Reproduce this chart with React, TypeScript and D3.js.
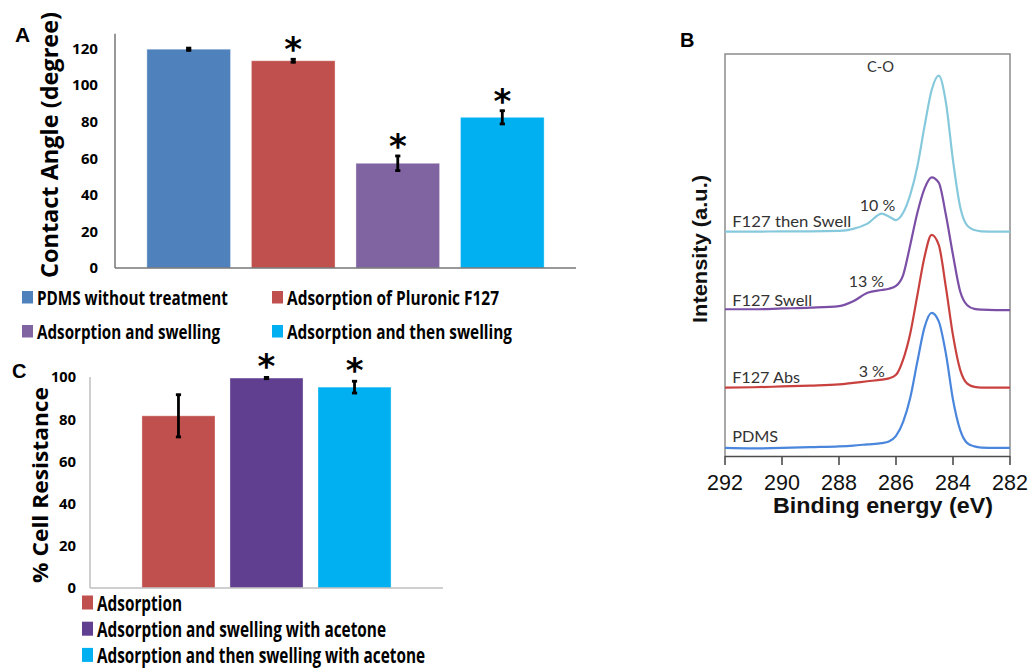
import React from "react";
import * as d3 from "d3";

// ---------- Panel A data ----------
const catsA = [
  "PDMS without treatment",
  "Adsorption of Pluronic F127",
  "Adsorption and swelling",
  "Adsorption and then swelling",
];
const angleMeans = [119.5, 113.2, 57.2, 82.3];
const angleErrs = [0.6, 0.8, 4.0, 3.6];
const angleSig = [false, true, true, true];
const colorsA = ["#4F81BD", "#C0504D", "#8064A2", "#00B0F0"];
const ticksA = [0, 20, 40, 60, 80, 100, 120];

// ---------- Panel C data ----------
const catsC = [
  "Adsorption",
  "Adsorption and swelling with acetone",
  "Adsorption and then swelling with acetone",
];
const resistMeans = [81.6, 99.5, 95.2];
const resistErrs = [10.0, 0.3, 2.8];
const resistSig = [false, true, true];
const colorsC = ["#C0504D", "#603E90", "#00B0F0"];
const ticksC = [0, 20, 40, 60, 80, 100];

// ---------- Panel B data (XPS C1s spectra, offset, a.u.) ----------
const energies = [292, 291, 290, 289, 288, 287.5, 287, 286.5, 286.25, 286, 285.75, 285.5, 285.25, 285, 284.75, 284.5, 284.25, 284, 283.75, 283.5, 283.25, 283, 282.5, 282];
const pdmsI = [2.0, 1.9, 2.0, 2.2, 2.4, 2.6, 2.9, 3.2, 3.6, 5.0, 8.5, 14.5, 23.5, 32.0, 35.6, 33.5, 25.5, 14.0, 6.5, 3.2, 2.4, 2.1, 2.0, 2.0];
const absI = [17.0, 17.1, 17.3, 17.5, 17.8, 18.2, 18.6, 19.0, 19.3, 20.2, 24.0, 30.5, 40.0, 49.5, 55.0, 52.5, 42.0, 30.0, 21.5, 18.0, 17.2, 17.0, 17.0, 17.0];
const swellI = [36.5, 36.5, 36.7, 36.9, 37.3, 38.5, 40.6, 41.3, 41.6, 42.3, 45.0, 52.5, 60.5, 66.5, 69.3, 68.0, 60.0, 50.0, 41.0, 37.5, 36.6, 36.4, 36.3, 36.3];
const thenSwellI = [55.8, 55.8, 55.9, 55.9, 56.0, 56.5, 57.8, 60.3, 59.6, 58.7, 60.5, 65.0, 72.0, 82.0, 91.0, 94.6, 88.0, 73.5, 62.0, 57.3, 56.2, 55.9, 55.8, 55.8];
const ticksB = [292, 290, 288, 286, 284, 282];
const seriesB = [
  { name: "PDMS", values: pdmsI, color: "#4A86DC", pct: "" },
  { name: "F127 Abs", values: absI, color: "#C8413F", pct: "3 %" },
  { name: "F127 Swell", values: swellI, color: "#7B4FA6", pct: "13 %" },
  { name: "F127 then Swell", values: thenSwellI, color: "#86C9DC", pct: "10 %" },
];

const BODY = "Lato, 'Open Sans', sans-serif";
const BOLDF = "'Open Sans', 'Noto Sans', sans-serif";
const ARIAL = "'Liberation Sans', Arial, sans-serif";
const HEAVY = "bold";

export default function App() {
  // Panel A scales
  const xA = d3.scaleBand<string>().domain(catsA).range([115, 576]).paddingInner(0.2).paddingOuter(0.305);
  const yA = d3.scaleLinear().domain([0, 120]).range([268, 48.3]);
  // Panel C scales
  const xC = d3.scaleBand<string>().domain(catsC).range([90, 443]).paddingInner(0.17).paddingOuter(0.59);
  const yC = d3.scaleLinear().domain([0, 100]).range([588, 377]);
  // Panel B scales
  const xB = d3.scaleLinear().domain([292, 282]).range([725, 1010]);
  const yB = d3.scaleLinear().domain([0, 100]).range([456, 54]);
  const line = d3
    .line<[number, number]>()
    .x((d) => xB(d[0]))
    .y((d) => yB(d[1]))
    .curve(d3.curveMonotoneX);

  const legendAWidths = [191, 212, 183, 225];
  const legendCWidths = [85, 289, 328];

  const errBar = (cx: number, yTop: number, yBot: number, key: string) => (
    <g key={key} stroke="#000" strokeWidth={2.8}>
      <line x1={cx} x2={cx} y1={yTop - 1} y2={yBot + 1} />
      <line x1={cx - 2.6} x2={cx + 2.6} y1={yTop} y2={yTop} />
      <line x1={cx - 2.6} x2={cx + 2.6} y1={yBot} y2={yBot} />
    </g>
  );

  const nameLabelE = 291.75;
  const pctLabelE: Record<string, number> = { "F127 then Swell": 287.27, "F127 Swell": 287.66, "F127 Abs": 287.31 };
  const pctLabelI: Record<string, number> = { "F127 then Swell": 61.0, "F127 Swell": 42.1, "F127 Abs": 19.7 };
  const nameLabelI: Record<string, number> = { "F127 then Swell": 57.0, "F127 Swell": 37.2, "F127 Abs": 18.2, PDMS: 3.6 };
  const nameWidths: Record<string, number> = { "F127 then Swell": 119, "F127 Swell": 80, "F127 Abs": 68, PDMS: 46 };

  return (
    <svg
      width={1030}
      height={669}
      style={{ position: "absolute", left: 0, top: 0, background: "#fff" }}
    >
      <rect x={0} y={0} width={1030} height={669} fill="#fff" />

      {/* ================= Panel A ================= */}
      <text x={15} y={42} fontFamily={ARIAL} fontWeight="bold" fontSize={21}>A</text>
      <text
        transform={`translate(58,145) rotate(-90)`}
        textAnchor="middle"
        fontFamily={BOLDF}
        fontWeight={HEAVY}
        fontSize={23}
        textLength={266}
        lengthAdjust="spacingAndGlyphs"
      >
        Contact Angle (degree)
      </text>
      {ticksA.map((t) => (
        <text key={t} x={98} y={yA(t)} dy="0.36em" textAnchor="end" fontFamily={BOLDF} fontWeight={HEAVY} fontSize={15} textLength={t >= 100 ? 26 : t > 0 ? 17 : 8.5} lengthAdjust="spacingAndGlyphs">
          {t}
        </text>
      ))}
      {catsA.map((c, i) => (
        <rect
          key={c}
          x={xA(c)}
          y={yA(angleMeans[i])}
          width={xA.bandwidth()}
          height={yA(0) - yA(angleMeans[i])}
          fill={colorsA[i]}
          stroke="#ffffff"
          strokeOpacity={0.35}
          strokeWidth={1}
        />
      ))}
      <line x1={115} x2={115} y1={yA(0)} y2={yA(128)} stroke="#767676" strokeWidth={1.5} />
      <line x1={115} x2={576} y1={yA(0)} y2={yA(0)} stroke="#767676" strokeWidth={1.5} />
      {catsA.map((c, i) =>
        errBar(xA(c)! + xA.bandwidth() / 2, yA(angleMeans[i] + angleErrs[i]), yA(angleMeans[i] - angleErrs[i]), "ea" + i)
      )}
      {catsA.map((c, i) =>
        angleSig[i] ? (
          <text key={"sa" + i} x={xA(c)! + xA.bandwidth() / 2} y={yA(angleMeans[i] + angleErrs[i]) + 2} textAnchor="middle" fontFamily="'DejaVu Sans', sans-serif" fontWeight="bold" fontSize={34}>
            *
          </text>
        ) : null
      )}
      {/* Legend A */}
      {catsA.map((c, i) => {
        const col = i % 2;
        const row = Math.floor(i / 2);
        const lx = [22, 272][col];
        const base = [305, 339][row];
        return (
          <g key={"la" + i}>
            <rect x={lx} y={base - 14} width={11} height={12.5} fill={colorsA[i]} />
            <text x={lx + 15} y={base} fontFamily={BOLDF} fontWeight={HEAVY} fontSize={20} textLength={legendAWidths[i]} lengthAdjust="spacingAndGlyphs">
              {c}
            </text>
          </g>
        );
      })}

      {/* ================= Panel C ================= */}
      <text x={12} y={378} fontFamily={ARIAL} fontWeight="bold" fontSize={20}>C</text>
      <text
        transform={`translate(48,485) rotate(-90)`}
        textAnchor="middle"
        fontFamily={BOLDF}
        fontWeight={HEAVY}
        fontSize={21}
        textLength={196}
        lengthAdjust="spacingAndGlyphs"
      >
        % Cell Resistance
      </text>
      {ticksC.map((t) => (
        <text key={t} x={76} y={yC(t)} dy="0.36em" textAnchor="end" fontFamily={BOLDF} fontWeight={HEAVY} fontSize={15} textLength={t >= 100 ? 25 : t > 0 ? 17 : 8.5} lengthAdjust="spacingAndGlyphs">
          {t}
        </text>
      ))}
      {catsC.map((c, i) => (
        <rect
          key={c}
          x={xC(c)}
          y={yC(resistMeans[i])}
          width={xC.bandwidth()}
          height={yC(0) - yC(resistMeans[i])}
          fill={colorsC[i]}
          stroke="#ffffff"
          strokeOpacity={0.35}
          strokeWidth={1}
        />
      ))}
      <line x1={90} x2={90} y1={yC(0)} y2={yC(100)} stroke="#BFBFBF" strokeWidth={1.5} />
      <line x1={90} x2={443} y1={yC(0)} y2={yC(0)} stroke="#BFBFBF" strokeWidth={1.5} />
      {catsC.map((c, i) =>
        errBar(xC(c)! + xC.bandwidth() / 2, yC(resistMeans[i] + resistErrs[i]), yC(resistMeans[i] - resistErrs[i]), "ec" + i)
      )}
      {catsC.map((c, i) =>
        resistSig[i] ? (
          <text key={"sc" + i} x={xC(c)! + xC.bandwidth() / 2} y={yC(resistMeans[i] + resistErrs[i]) + 1} textAnchor="middle" fontFamily="'DejaVu Sans', sans-serif" fontWeight="bold" fontSize={34}>
            *
          </text>
        ) : null
      )}
      {/* Legend C */}
      {catsC.map((c, i) => {
        const base = 610.5 + i * 26.2;
        return (
          <g key={"lc" + i}>
            <rect x={82} y={base - 15} width={11} height={14} fill={colorsC[i]} />
            <text x={97} y={base} fontFamily={BOLDF} fontWeight={HEAVY} fontSize={20.5} textLength={legendCWidths[i]} lengthAdjust="spacingAndGlyphs">
              {c}
            </text>
          </g>
        );
      })}

      {/* ================= Panel B ================= */}
      <text x={680} y={47} fontFamily={ARIAL} fontWeight="bold" fontSize={20}>B</text>
      <path
        d={`M${xB(292)},${yB(0)} V${yB(100)} H${xB(282)} V${yB(0)}`}
        fill="none"
        stroke="#8C8C8C"
        strokeWidth={1.5}
      />
      <line x1={xB(292)} x2={xB(282)} y1={yB(0) + 0.5} y2={yB(0) + 0.5} stroke="#4D4D4D" strokeWidth={1.6} />
      {ticksB.map((t) => (
        <g key={t}>
          <line x1={xB(t)} x2={xB(t)} y1={yB(0)} y2={yB(0) + 9} stroke="#4D4D4D" strokeWidth={1.6} />
          <text x={xB(t)} y={489.5} textAnchor="middle" fontFamily={ARIAL} fontSize={21.5} fill="#111">
            {t}
          </text>
        </g>
      ))}
      <text x={883} y={513} textAnchor="middle" fontFamily={ARIAL} fontWeight="bold" fontSize={22} fill="#111" textLength={220} lengthAdjust="spacingAndGlyphs">
        Binding energy (eV)
      </text>
      <text
        transform={`translate(707,249) rotate(-90)`}
        textAnchor="middle"
        fontFamily={ARIAL}
        fontWeight="bold"
        fontSize={21}
        fill="#111"
        textLength={148}
        lengthAdjust="spacingAndGlyphs"
      >
        Intensity (a.u.)
      </text>
      {seriesB.map((s) => (
        <path
          key={s.name}
          d={line(energies.map((e, i) => [e, s.values[i]] as [number, number])) || ""}
          fill="none"
          stroke={s.color}
          strokeWidth={2.2}
        />
      ))}
      {seriesB.map((s) => (
        <text
          key={"n" + s.name}
          x={xB(nameLabelE)}
          y={yB(nameLabelI[s.name])}
          fontFamily={BODY}
          fontSize={16}
          fill="#333"
          textLength={nameWidths[s.name]}
          lengthAdjust="spacingAndGlyphs"
        >
          {s.name}
        </text>
      ))}
      {seriesB
        .filter((s) => s.pct)
        .map((s) => (
          <text key={"p" + s.name} x={xB(pctLabelE[s.name])} y={yB(pctLabelI[s.name])} fontFamily={BODY} fontSize={16} fill="#333">
            {s.pct}
          </text>
        ))}
      <text x={867} y={71.5} fontFamily={BODY} fontSize={16} fill="#333" textLength={27} lengthAdjust="spacingAndGlyphs">
        C-O
      </text>
    </svg>
  );
}
